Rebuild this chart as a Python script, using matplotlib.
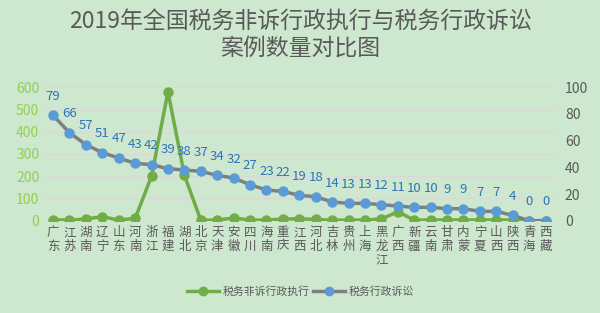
import matplotlib
matplotlib.use("Agg")
import matplotlib.pyplot as plt
from matplotlib.lines import Line2D

plt.rcParams['font.family'] = ['Noto Sans CJK SC', 'DejaVu Sans']

provinces = ["广东", "江苏", "湖南", "辽宁", "山东", "河南", "浙江", "福建", "湖北", "北京",
             "天津", "安徽", "四川", "海南", "重庆", "江西", "河北", "吉林", "贵州", "上海",
             "黑龙江", "广西", "新疆", "云南", "甘肃", "内蒙", "宁夏", "山西", "陕西", "青海", "西藏"]
non_litigation = [5, 2, 8, 18, 3, 10, 200, 580, 205, 2, 3, 12, 3, 2, 8, 8,
                  6, 2, 3, 3, 8, 40, 3, 3, 3, 3, 3, 3, 3, 0, 0]
litigation = [79, 66, 57, 51, 47, 43, 42, 39, 38, 37, 34, 32, 27, 23, 22, 19,
              18, 14, 13, 13, 12, 11, 10, 10, 9, 9, 7, 7, 4, 0, 0]
left_ticks = [0, 100, 200, 300, 400, 500, 600]
right_ticks = [0, 20, 40, 60, 80, 100]

title = "2019年全国税务非诉行政执行与税务行政诉讼\n案例数量对比图"
bg = "#CDE8CF"
green = "#70AD47"
blue = "#5B9BD5"
gray_line = "#7F7F7F"
label_blue = "#2E75B6"
text_gray = "#595959"

fig = plt.figure(figsize=(6, 3.13), dpi=100, facecolor=bg)
ax = fig.add_axes([0.0747, 0.2949, 0.8483, 0.4262])
ax.set_facecolor(bg)
ax2 = ax.twinx()

x = list(range(len(provinces)))

ax.set_xlim(-0.5, len(provinces) - 0.5)
ax.set_ylim(0, 600)
ax2.set_ylim(0, 100)
ax.set_yticks(left_ticks)
ax2.set_yticks(right_ticks)

for t in left_ticks:
    ax.axhline(t, color="#D9D9D9", lw=1, zorder=0)

ax.plot(x, non_litigation, color=green, lw=2.5, marker='o', ms=6.5, zorder=3)
ax2.plot(x, litigation, color=gray_line, lw=2.5, marker='o', ms=6.5,
         markerfacecolor=blue, markeredgecolor=blue, zorder=3)

for xi, v in zip(x, litigation):
    ax2.annotate(str(v), (xi, v), xytext=(0, 9), textcoords='offset points',
                 ha='center', va='bottom', color=label_blue, fontsize=9.5)

for a in (ax, ax2):
    for s in a.spines.values():
        s.set_visible(False)

ax.set_xticks(x)
ax.set_xticklabels(["\n".join(p) for p in provinces], fontsize=9, color=text_gray,
                   linespacing=1.05, va='top')
ax.tick_params(axis='x', length=0, pad=4)
ax.tick_params(axis='y', length=0, labelcolor="#92D050", labelsize=10, pad=4)
ax2.tick_params(axis='y', length=0, labelcolor=text_gray, labelsize=10, pad=8)

fig.text(0.5, 0.97, title, ha='center', va='top', fontsize=16.5, color=text_gray,
         linespacing=1.25)

handles = [Line2D([0], [0], color=green, lw=2.5, marker='o', ms=6),
           Line2D([0], [0], color=gray_line, lw=2.5, marker='o', ms=6,
                  markerfacecolor=blue, markeredgecolor=blue)]
fig.legend(handles, ["税务非诉行政执行", "税务行政诉讼"], loc='center',
           bbox_to_anchor=(0.5, 0.07), ncol=2, frameon=False, fontsize=7.8,
           labelcolor=text_gray, handlelength=3.0, columnspacing=0.3, handletextpad=0.3)

fig.savefig("out.png", dpi=100, facecolor=bg)
